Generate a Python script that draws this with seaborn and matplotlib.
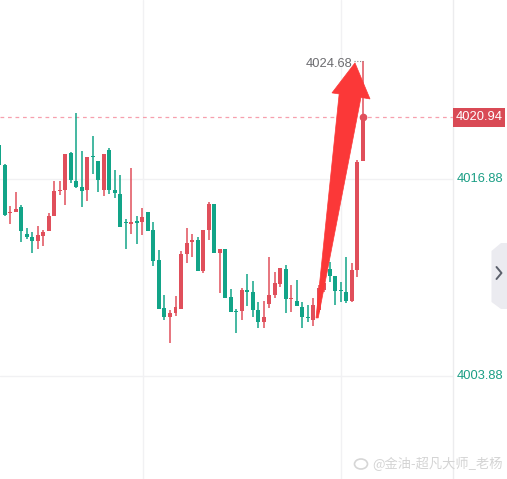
import pandas as pd
import seaborn as sns
import matplotlib.pyplot as plt
from matplotlib.patches import Polygon, Ellipse, Rectangle
from matplotlib.lines import Line2D

# candle values (oldest -> newest)
opens = [4019.12, 4017.80, 4014.64, 4014.70, 4015.03, 4013.25, 4013.05, 4012.79, 4013.12, 4013.45,
         4014.44, 4016.09, 4016.15, 4018.60, 4016.75, 4016.35, 4016.15, 4018.35, 4018.07, 4016.15,
         4018.79, 4016.15, 4015.89, 4013.98, 4013.91, 4014.11, 4014.04, 4014.70, 4013.51, 4011.53,
         4008.37, 4007.77, 4008.04, 4008.30, 4011.93, 4012.72, 4012.85, 4010.81, 4013.51, 4015.23,
         4012.00, 4012.26, 4009.09, 4008.12, 4008.17, 4009.55, 4009.42, 4008.23, 4007.44, 4008.63,
         4009.22, 4009.95, 4010.94, 4008.96, 4008.83, 4008.43, 4007.73, 4007.57, 4008.23, 4009.55,
         4010.94, 4010.48, 4009.51, 4009.42, 4008.83, 4010.87, 4018.07]
highs = [4019.20, 4017.85, 4015.10, 4016.02, 4015.16, 4013.65, 4013.38, 4013.78, 4013.51, 4014.64,
         4016.75, 4016.75, 4018.53, 4018.66, 4021.24, 4018.73, 4018.33, 4019.72, 4018.07, 4018.53,
         4018.93, 4017.47, 4017.14, 4014.24, 4017.61, 4014.44, 4014.97, 4014.70, 4014.04, 4012.19,
         4009.22, 4008.23, 4009.16, 4012.13, 4013.65, 4013.25, 4013.05, 4013.51, 4015.36, 4015.23,
         4012.26, 4012.26, 4009.62, 4008.30, 4009.69, 4010.61, 4010.15, 4008.76, 4008.83, 4011.73,
         4010.74, 4011.01, 4011.20, 4009.88, 4010.21, 4008.76, 4008.56, 4009.03, 4009.88, 4010.35,
         4011.40, 4010.48, 4010.08, 4011.73, 4011.34, 4018.13, 4024.68]
lows = [4017.70, 4014.45, 4013.91, 4014.70, 4012.72, 4012.92, 4012.00, 4012.26, 4012.46, 4013.45,
        4014.44, 4015.82, 4015.16, 4016.62, 4016.29, 4015.03, 4015.43, 4017.21, 4016.02, 4015.76,
        4015.89, 4015.63, 4013.71, 4012.26, 4013.25, 4012.59, 4013.18, 4013.45, 4011.14, 4008.30,
        4007.57, 4006.06, 4007.84, 4008.30, 4011.34, 4011.73, 4010.81, 4010.68, 4012.85, 4012.00,
        4009.36, 4009.03, 4008.10, 4006.72, 4007.57, 4008.50, 4007.77, 4007.05, 4007.05, 4008.37,
        4009.03, 4009.75, 4008.04, 4008.10, 4008.50, 4007.05, 4007.44, 4007.18, 4008.10, 4009.42,
        4010.08, 4008.56, 4008.76, 4008.70, 4008.76, 4010.41, 4018.07]
closes = [4017.80, 4014.50, 4014.66, 4014.90, 4013.45, 4013.05, 4012.79, 4013.18, 4013.38, 4014.44,
          4016.09, 4016.12, 4018.53, 4016.81, 4016.35, 4016.09, 4018.33, 4018.30, 4016.81, 4018.53,
          4016.15, 4015.96, 4013.71, 4013.95, 4014.04, 4013.98, 4014.37, 4013.45, 4011.47, 4008.30,
          4007.77, 4008.04, 4008.43, 4011.93, 4012.66, 4012.85, 4010.81, 4013.51, 4015.23, 4012.00,
          4012.26, 4009.03, 4008.10, 4008.08, 4009.55, 4009.42, 4008.23, 4007.44, 4007.77, 4009.22,
          4010.02, 4011.01, 4008.96, 4009.00, 4008.50, 4007.77, 4007.69, 4008.56, 4009.69, 4010.02,
          4010.48, 4009.49, 4009.47, 4008.83, 4010.87, 4018.00, 4020.94]

price_ticks = [4003.88, 4016.88]
last_price = 4020.94
max_price = 4024.68
watermark = '@金油-超凡大师_老杨'

UP = '#e04f5b'
DOWN = '#12a488'
TEAL_TEXT = '#1b9e85'

df = pd.DataFrame({'open': opens, 'high': highs, 'low': lows, 'close': closes})
df['idx'] = range(len(df))
df['up'] = df['close'] >= df['open']
df['color'] = df['up'].map({True: UP, False: DOWN})
df['bottom'] = df[['open', 'close']].min(axis=1)
df['body'] = (df['close'] - df['open']).abs().clip(lower=0.07)

sns.set_theme(style='white')
plt.rcParams['font.family'] = ['Liberation Sans', 'Noto Sans CJK SC', 'DejaVu Sans']

fig = plt.figure(figsize=(5.07, 4.79), dpi=100)
ax = fig.add_axes([0, 0, 453 / 507, 1])

# grid
ax.set_xticks([26.1, 62.0])
ax.set_yticks(price_ticks)
ax.grid(True, color='#f1f1f3', linewidth=1)
ax.tick_params(axis='x', labelbottom=False, length=0)
ax.yaxis.tick_right()
ax.tick_params(axis='y', length=0, pad=3, labelsize=9.3, labelcolor=TEAL_TEXT)
for lab in ax.get_yticklabels():
    lab.set_verticalalignment('center')
for side in ['top', 'bottom', 'left']:
    ax.spines[side].set_visible(False)
ax.spines['right'].set_color('#ececee')
ax.spines['right'].set_linewidth(1)

# candles
ax.vlines(df['idx'], df['low'], df['high'], colors=df['color'], linewidth=1.1, zorder=3)
ax.bar(df['idx'], df['body'], bottom=df['bottom'], width=0.72, color=df['color'], linewidth=0, zorder=3)

ax.set_xlim(0.15, 82.36)
ax.set_ylim(3997.08, 4028.69)

W, H = 507, 479
def fpt(x, y):
    return (x / W, 1 - y / H)

# last price line, marker and label
last_i = df['idx'].iloc[-1]
ax.axhline(last_price, color='#f7a0ae', linewidth=0.9, linestyle=(0, (3, 3)), zorder=2)
ax.plot([last_i], [last_price], 'o', color=UP, markersize=4.5, zorder=4)
fig.canvas.draw()
yp = ax.transData.transform((0, last_price))[1]  # pixel y of last price
fig.add_artist(Rectangle((453 / W, (yp - 9.5) / H), 52 / W, 19 / H, transform=fig.transFigure,
                         fc='#d94a55', ec='none'))
fig.text(479 / W, yp / H, f'{last_price:.2f}', ha='center', va='center', color='white', fontsize=9.3)

# high label
ax.hlines(max_price, last_i - 1.6, last_i, colors='#8a8a8a', linewidth=0.8, linestyles=(0, (1, 1.5)), zorder=4)
ax.text(last_i - 1.95, max_price - 0.2, f'{max_price:.2f}', ha='right', va='center',
        color='#6c6c70', fontsize=9.3, zorder=5)

# red arrow drawn on top
tip_x, tip_y = last_i - 1.43, max_price - 0.14
shape = [(0, 0), (2.73, -2.38), (1.09, -2.28), (-6.67, -16.83),
         (-7.07, -16.83), (-2.87, -2.05), (-4.17, -1.98)]
ax.add_patch(Polygon([(tip_x + dx, tip_y + dy) for dx, dy in shape], closed=True,
                     fc='#fb3838', ec='#fb3838', lw=0.5, zorder=6))

# side tab with chevron
tab = Polygon([fpt(491.5, 251), fpt(501, 243), fpt(507, 243), fpt(507, 309), fpt(501, 309), fpt(491.5, 302)],
              closed=True, transform=fig.transFigure, fc='#ebebf0', ec='none')
fig.add_artist(tab)
chev = [fpt(496.5, 267), fpt(501.5, 273), fpt(496.5, 279)]
fig.add_artist(Line2D([p[0] for p in chev], [p[1] for p in chev], transform=fig.transFigure,
                      color='#5b606b', linewidth=1.4))

# watermark
fig.add_artist(Ellipse(fpt(361, 464), 13 / W, 10 / H, transform=fig.transFigure,
                       fc='none', ec='#d6d6d6', lw=1.2))
fig.text(372 / W, 1 - 464 / H, watermark, ha='left', va='center', fontsize=9.5,
         color='#d4d4d4', family=['Noto Sans CJK SC', 'DejaVu Sans'])

fig.savefig('out.png', dpi=100)
